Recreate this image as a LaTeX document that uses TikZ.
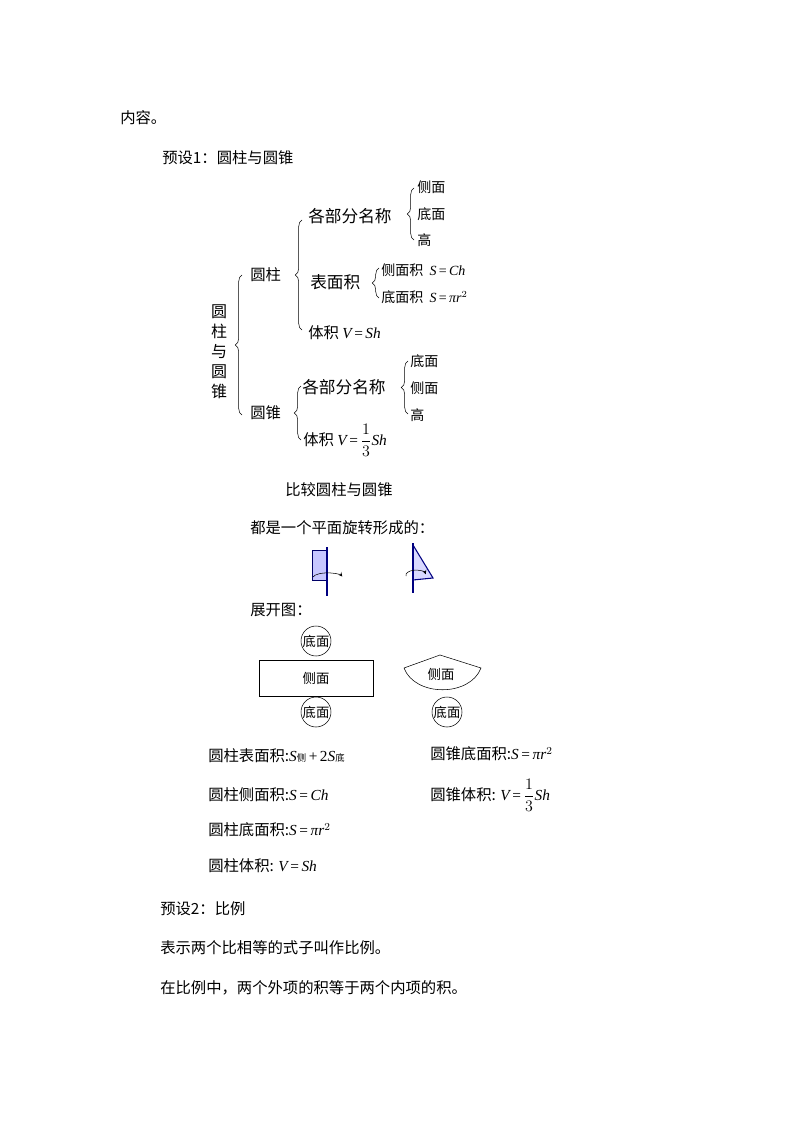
\documentclass[tikz,border=0pt]{standalone}
\usepackage{fontspec}
\setmainfont{Liberation Serif}
\newfontfamily\cjk{Noto Sans CJK SC}
\newfontfamily\lat{Liberation Serif}
\newcommand{\mi}[1]{{\lat\itshape #1}}
\newcommand{\eq}{{\lat\,=\,}}
\newcommand{\third}{$\displaystyle\frac{1}{3}$}
\usetikzlibrary{decorations.pathreplacing}
\begin{document}
\begin{tikzpicture}[x=0.75pt,y=-0.75pt,
  t/.style={anchor=west,inner sep=0pt,font=\cjk\fontsize{11.5}{13}\selectfont},
  tb/.style={anchor=west,inner sep=0pt,font=\cjk\fontsize{12.5}{14}\selectfont},
  ts/.style={anchor=west,inner sep=0pt,font=\cjk\fontsize{10.5}{12}\selectfont},
  br/.style={decorate,decoration={brace,amplitude=5pt}},
  circ/.style={draw,circle,minimum size=22.5pt,inner sep=0pt,font=\cjk\fontsize{10}{12}\selectfont}]
\useasboundingbox (0,0) rectangle (794,1123);
\node[t] (a0) at (120,118) {内容。};
\node[t] (a1) at (162,158) {预设1：圆柱与圆锥};
% tree
\node[t,align=center,anchor=center,font=\cjk\fontsize{12}{15}\selectfont] (root) at (219,352) {圆\\柱\\与\\圆\\锥};
\draw[br] (242,415) -- (242,275);
\node[t] (zhu) at (250,275) {圆柱};
\draw[br] (302,330) -- (302,220);
\node[tb] (z1) at (308,216) {各部分名称};
\draw[br] (414,240) -- (414,188);
\node[ts] (z11) at (417,187) {侧面};
\node[ts] (z12) at (417,214) {底面};
\node[ts] (z13) at (417,240) {高};
\node[tb] (z2) at (310,282) {表面积};
\draw[br] (379,298) -- (379,268);
\node[ts] (z21) at (381,270) {侧面积\ \ \mi{S}\eq\mi{Ch}};
\node[ts] (z22) at (381,297) {底面积\ \ \mi{S}\eq\mi{πr}$^{2}$};
\node[t] (z3) at (308,333) {体积 \mi{V}\eq\mi{Sh}};
\node[t] (zhui) at (250,413) {圆锥};
\draw[br] (301,440) -- (301,386);
\node[tb] (c1) at (302,387) {各部分名称};
\draw[br] (408,414) -- (408,361);
\node[ts] (c11) at (410,361) {底面};
\node[ts] (c12) at (410,388) {侧面};
\node[ts] (c13) at (410,415) {高};
\node[t] (c2) at (303,440) {体积 \mi{V}\eq\third\mi{Sh}};
% comparison
\node[t] (b0) at (285,490) {比较圆柱与圆锥};
\node[t] (b1) at (250,528) {都是一个平面旋转形成的：};
\draw[fill=blue!22!white,draw=blue!40!black] (312,550) rectangle (327,580);
\draw[thick,blue!50!black] (327,547) -- (327,596);
\draw[-stealth,thin] (313,577) arc[start angle=190,end angle=345,x radius=15,y radius=5];
\draw[fill=blue!15!white,draw=blue!50!black,thick] (413,545) -- (413,580) -- (433,578) -- cycle;
\draw[thick,blue!50!black] (413,543) -- (413,593);
\draw[-stealth,thin] (406,576) arc[start angle=170,end angle=350,x radius=10,y radius=5];
\node[t] (b2) at (250,610) {展开图：};
\node[circ] (ct) at (316,641) {底面};
\node[draw,minimum width=85.5pt,minimum height=27pt,inner sep=0pt,font=\cjk\fontsize{10}{12}\selectfont] (rect) at (316,678) {侧面};
\node[circ] (cb) at (316,712) {底面};
\draw (404,668) -- (440,655) -- (481,668) .. controls (470,697) and (415,697) .. (404,668);
\node[font=\cjk\fontsize{10}{12}\selectfont] (sec) at (441,674) {侧面};
\node[circ] (cc) at (447,712) {底面};
% formulas
\node[t] (f1) at (208,756) {圆柱表面积:\mi{S}{\fontsize{7}{8}\selectfont 侧}{\lat\,+\,2}\mi{S}{\fontsize{7}{8}\selectfont 底}};
\node[t] (f2) at (208,795) {圆柱侧面积:\mi{S}\eq\mi{Ch}};
\node[t] (f3) at (208,830) {圆柱底面积:\mi{S}\eq\mi{πr}$^{2}$};
\node[t] (f4) at (208,866) {圆柱体积: \mi{V}\eq\mi{Sh}};
\node[t] (g1) at (430,754) {圆锥底面积:\mi{S}\eq\mi{πr}$^{2}$};
\node[t] (g2) at (430,795) {圆锥体积: \mi{V}\eq\third\mi{Sh}};
\node[t] (p2) at (160,909) {预设2：比例};
\node[t] (p3) at (160,948) {表示两个比相等的式子叫作比例。};
\node[t] (p4) at (160,988) {在比例中，两个外项的积等于两个内项的积。};
\end{tikzpicture}
\end{document}
